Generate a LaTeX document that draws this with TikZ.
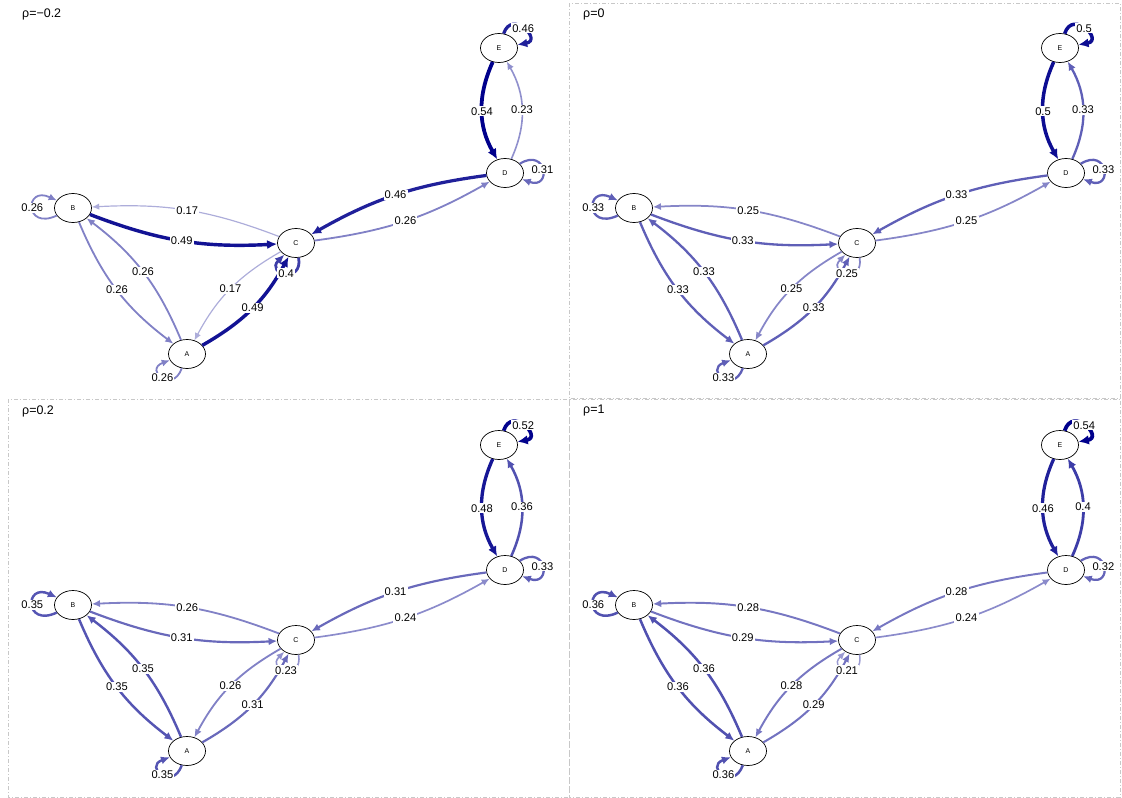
\documentclass[tikz,border=0pt]{standalone}
\usepackage{fontspec}
\setmainfont{Liberation Sans}
\usetikzlibrary{arrows.meta,shapes.geometric}
\definecolor{ecol}{RGB}{0,0,140}
\definecolor{framecol}{RGB}{200,200,200}
\tikzset{
 st/.style={ellipse, draw=black, line width=0.7bp, fill=white, minimum width=37bp, minimum height=29bp, inner sep=0pt, font=\fontsize{7}{8}\selectfont},
 ew/.style={/utils/exec={\pgfmathsetmacro\pc{min(100,#1*190)}\pgfmathsetmacro\lw{#1*7}}, draw=ecol!\pc!white, line width=\lw bp, -{Latex[length=6bp 1.2,width=5bp 1.2]}},
 lbl/.style={fill=white, inner sep=1.2bp, font=\fontsize{11.2}{13}\selectfont, text=black},
 ttl/.style={anchor=west, font=\fontsize{12.5}{14}\selectfont, inner sep=0pt},
 fr/.style={draw=framecol, line width=0.7bp, dash pattern=on 4bp off 2bp on 1bp off 2bp},
}
\newcommand\mypanel[3]{%
 \begin{scope}[shift={#1}]
  \node[ttl] (T#2) at (22,-14) {#3};
  \node[st] (A#2) at (187,-354) {A};
  \node[st] (B#2) at (73,-208) {B};
  \node[st] (C#2) at (296,-243) {C};
  \node[st] (D#2) at (505,-173) {D};
  \node[st] (E#2) at (499,-48) {E};
  \draw[ew=\wBC] (B#2) to[bend right=12] node[lbl]{\wBC} (C#2);
  \draw[ew=\wCB] (C#2) to[bend right=12] node[lbl]{\wCB} (B#2);
  \draw[ew=\wBA] (B#2) to[bend right=15] node[lbl]{\wBA} (A#2);
  \draw[ew=\wAB] (A#2) to[bend right=15] node[lbl]{\wAB} (B#2);
  \draw[ew=\wCA] (C#2) to[bend right=16] node[lbl]{\wCA} (A#2);
  \draw[ew=\wAC] (A#2) to[bend right=16] node[lbl]{\wAC} (C#2);
  \draw[ew=\wCD] (C#2) to[bend right=11] node[lbl]{\wCD} (D#2);
  \draw[ew=\wDC] (D#2) to[bend right=11] node[lbl]{\wDC} (C#2);
  \draw[ew=\wED] (E#2) to[bend right=27] node[lbl]{\wED} (D#2);
  \draw[ew=\wDE] (D#2) to[bend right=27] node[lbl]{\wDE} (E#2);
  \draw[ew=\wBB] (B#2) to[out=205,in=155,looseness=1,min distance=36bp] node[lbl]{\wBB} (B#2);
  \draw[ew=\wAA] (A#2) to[out=250,in=200,looseness=1,min distance=28bp] node[lbl]{\wAA} (A#2);
  \draw[ew=\wCC] (C#2) to[out=280,in=225,looseness=1,min distance=27bp] node[lbl]{\wCC} (C#2);
  \draw[ew=\wDD] (D#2) to[out=32,in=-20,looseness=1,min distance=32bp] node[lbl]{\wDD} (D#2);
  \draw[ew=\wEE] (E#2) to[out=72,in=10,looseness=1,min distance=26bp] node[lbl]{\wEE} (E#2);
 \end{scope}}
\begin{document}
\begin{tikzpicture}[x=1bp,y=1bp]
\useasboundingbox (0,0) rectangle (1122,-798);
\draw[fr] (569,-3.5) rectangle (1120,-398);
\draw[fr] (8,-399) rectangle (569,-797);
\draw[fr] (569,-399) rectangle (1120,-797);
% panel 1
\def\wBC{0.49}\def\wCB{0.17}\def\wBA{0.26}\def\wAB{0.26}\def\wCA{0.17}\def\wAC{0.49}\def\wCD{0.26}\def\wDC{0.46}\def\wED{0.54}\def\wDE{0.23}\def\wAA{0.26}\def\wBB{0.26}\def\wCC{0.4}\def\wDD{0.31}\def\wEE{0.46}
\mypanel{(0,0)}{1}{ρ=−0.2}
% panel 2
\def\wBC{0.33}\def\wCB{0.25}\def\wBA{0.33}\def\wAB{0.33}\def\wCA{0.25}\def\wAC{0.33}\def\wCD{0.25}\def\wDC{0.33}\def\wED{0.5}\def\wDE{0.33}\def\wAA{0.33}\def\wBB{0.33}\def\wCC{0.25}\def\wDD{0.33}\def\wEE{0.5}
\mypanel{(561,0)}{2}{ρ=0}
% panel 3
\def\wBC{0.31}\def\wCB{0.26}\def\wBA{0.35}\def\wAB{0.35}\def\wCA{0.26}\def\wAC{0.31}\def\wCD{0.24}\def\wDC{0.31}\def\wED{0.48}\def\wDE{0.36}\def\wAA{0.35}\def\wBB{0.35}\def\wCC{0.23}\def\wDD{0.33}\def\wEE{0.52}
\mypanel{(0,-397)}{3}{ρ=0.2}
% panel 4
\def\wBC{0.29}\def\wCB{0.28}\def\wBA{0.36}\def\wAB{0.36}\def\wCA{0.28}\def\wAC{0.29}\def\wCD{0.24}\def\wDC{0.28}\def\wED{0.46}\def\wDE{0.4}\def\wAA{0.36}\def\wBB{0.36}\def\wCC{0.21}\def\wDD{0.32}\def\wEE{0.54}
\mypanel{(561,-397)}{4}{ρ=1}
\end{tikzpicture}
\end{document}
